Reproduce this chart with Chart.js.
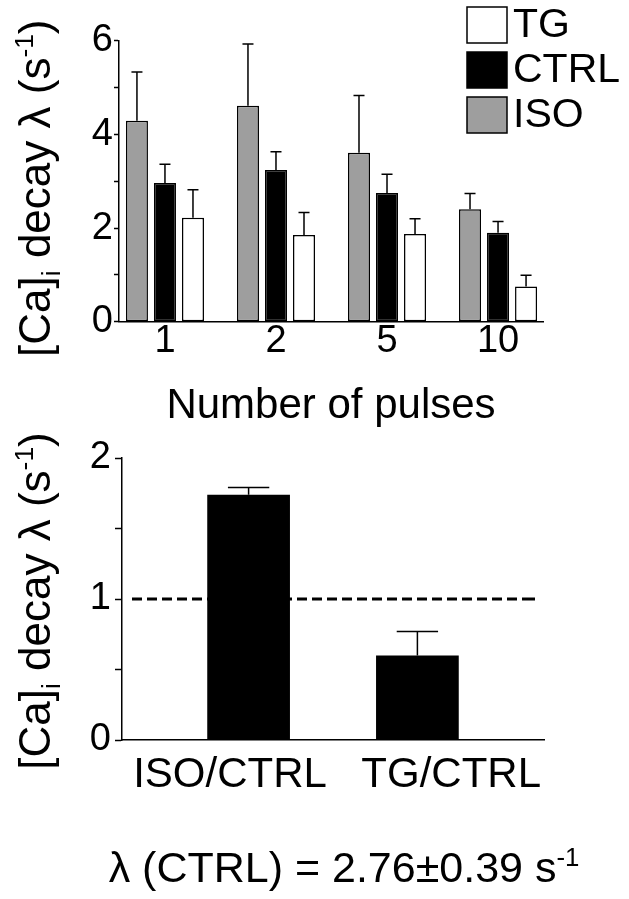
<!DOCTYPE html>
<html>
<head>
<meta charset="utf-8">
<script src="https://cdn.jsdelivr.net/npm/chart.js@4.4.1/dist/chart.umd.min.js"></script>
<style>
  html, body { margin: 0; padding: 0; background: #fff; }
  #wrap { position: relative; width: 629px; height: 899px; }
  #wrap canvas { position: absolute; left: 0; top: 0; }
</style>
</head>
<body>
<div id="wrap">
  <canvas id="topChart" width="629" height="899"></canvas>
  <canvas id="ratioChart" width="629" height="899"></canvas>
</div>
<script>
// data - top panel
const pulses = ['1', '2', '5', '10'];
const isoMean = [4.29, 4.61, 3.61, 2.40];
const isoErr = [1.04, 1.32, 1.22, 0.34];
const ctrlMean = [2.96, 3.24, 2.75, 1.90];
const ctrlErr = [0.40, 0.39, 0.40, 0.24];
const tgMean = [2.22, 1.85, 1.87, 0.75];
const tgErr = [0.60, 0.48, 0.33, 0.24];
const topTicks = [0, 1, 2, 3, 4, 5, 6];

// data - bottom panel
const ratioLabels = ['ISO/CTRL', 'TG/CTRL'];
const ratioMean = [1.74, 0.60];
const ratioErr = [0.05, 0.17];
const ratioRef = 1;
const ctrlLambda = '2.76';
const ctrlLambdaSd = '0.39';

const FONT = "'Liberation Sans', Arial, Helvetica, sans-serif";
Chart.defaults.font.family = FONT;
Chart.defaults.color = '#000';

const toPoints = arr => arr.map((v, i) => ({ x: i, y: v }));

// draw upward error bars
const errorBars = {
  id: 'errorBars',
  afterDatasetsDraw(chart) {
    const ctx = chart.ctx;
    const y = chart.scales.y;
    chart.data.datasets.forEach((ds, di) => {
      if (!ds.errors) return;
      chart.getDatasetMeta(di).data.forEach((bar, i) => {
        const top = y.getPixelForValue(ds.data[i].y + ds.errors[i]);
        const half = bar.width / 4;
        ctx.save();
        ctx.strokeStyle = '#000';
        ctx.lineWidth = 1.5;
        ctx.beginPath();
        ctx.moveTo(bar.x, bar.y);
        ctx.lineTo(bar.x, top);
        ctx.moveTo(bar.x - half, top);
        ctx.lineTo(bar.x + half, top);
        ctx.stroke();
        ctx.restore();
      });
    });
  }
};

// text with sub / superscripts
function richWidth(ctx, parts, size) {
  let w = 0;
  parts.forEach(p => {
    const s = (p.sub || p.sup) ? size * 0.6 : size;
    ctx.font = s + 'px ' + FONT;
    w += ctx.measureText(p.t).width;
  });
  return w;
}
function drawRich(ctx, parts, size, x, y) {
  let cx = x;
  parts.forEach(p => {
    const s = (p.sub || p.sup) ? size * 0.6 : size;
    ctx.font = s + 'px ' + FONT;
    let dy = 0;
    if (p.sub) dy = size * 0.22;
    if (p.sup) dy = -size * 0.38;
    ctx.fillText(p.t, cx, y + dy);
    cx += ctx.measureText(p.t).width;
  });
}

const yTitleParts = [
  { t: '[Ca]' }, { t: 'i', sub: true }, { t: ' decay \u03bb (s' }, { t: '-1', sup: true }, { t: ')' }
];

const yTitle = {
  id: 'yTitle',
  afterDraw(chart, args, opts) {
    const ctx = chart.ctx;
    const area = chart.chartArea;
    const size = opts.size;
    ctx.save();
    ctx.fillStyle = '#000';
    ctx.textBaseline = 'alphabetic';
    const w = richWidth(ctx, yTitleParts, size);
    const cy = (area.top + area.bottom) / 2 + opts.shift;
    ctx.translate(opts.x, cy);
    ctx.rotate(-Math.PI / 2);
    drawRich(ctx, yTitleParts, size, -w / 2, 0);
    ctx.restore();
  }
};

// legend boxes at the top right (TG, CTRL, ISO)
const boxLegend = {
  id: 'boxLegend',
  afterDraw(chart) {
    const ctx = chart.ctx;
    const items = chart.data.datasets.slice().reverse();
    ctx.save();
    items.forEach((ds, i) => {
      const bx = 467, by = 7 + i * 45;
      ctx.fillStyle = ds.backgroundColor;
      ctx.fillRect(bx, by, 40, 36);
      ctx.strokeStyle = '#000';
      ctx.lineWidth = 1.5;
      ctx.strokeRect(bx, by, 40, 36);
      ctx.fillStyle = '#000';
      ctx.font = '41px ' + FONT;
      ctx.textBaseline = 'middle';
      ctx.fillText(ds.label, bx + 46, by + 19);
    });
    ctx.restore();
  }
};

new Chart(document.getElementById('topChart'), {
  type: 'bar',
  data: {
    datasets: [
      { label: 'ISO', data: toPoints(isoMean), errors: isoErr, backgroundColor: '#9e9e9e' },
      { label: 'CTRL', data: toPoints(ctrlMean), errors: ctrlErr, backgroundColor: '#000' },
      { label: 'TG', data: toPoints(tgMean), errors: tgErr, backgroundColor: '#fff' }
    ]
  },
  options: {
    responsive: false,
    animation: false,
    layout: { padding: { top: 40.7, right: 86, bottom: 459, left: 0 } },
    datasets: {
      bar: {
        borderColor: '#000',
        borderWidth: 1.5,
        borderSkipped: false,
        categoryPercentage: 0.757,
        barPercentage: 0.786
      }
    },
    plugins: {
      legend: { display: false },
      tooltip: { enabled: false },
      yTitle: { size: 44, x: 50, shift: 7 }
    },
    scales: {
      x: {
        type: 'linear',
        min: -0.414,
        max: 3.405,
        offset: false,
        afterBuildTicks: s => { s.ticks = pulses.map((p, i) => ({ value: i })); },
        afterFit: s => { s.height = 118.3; },
        grid: { display: false, drawTicks: false, offset: false },
        border: { display: true, color: '#000', width: 1.5 },
        ticks: {
          padding: 1.3,
          font: { size: 38, lineHeight: 1 },
          callback: (v, i) => pulses[i]
        },
        title: {
          display: true,
          text: 'Number of pulses',
          font: { size: 42, lineHeight: 1.2 },
          padding: { top: 0, bottom: 8 }
        }
      },
      y: {
        min: 0,
        max: 6,
        afterBuildTicks: s => { s.ticks = topTicks.map(v => ({ value: v })); },
        afterFit: s => { s.width = 119; },
        grid: { drawOnChartArea: false, drawTicks: true, tickLength: 5, tickWidth: 1.5, tickColor: '#000' },
        border: { color: '#000', width: 1.5 },
        ticks: {
          padding: 1,
          font: { size: 38, lineHeight: 1 },
          callback: v => (v % 2 === 0 ? v : '')
        }
      }
    }
  },
  plugins: [errorBars, yTitle, boxLegend]
});

// dashed reference line at ratio 1
const refLine = {
  id: 'refLine',
  beforeDatasetsDraw(chart) {
    const ctx = chart.ctx;
    const a = chart.chartArea;
    const yy = chart.scales.y.getPixelForValue(ratioRef);
    ctx.save();
    ctx.strokeStyle = '#000';
    ctx.lineWidth = 3;
    ctx.setLineDash([10, 5]);
    ctx.beginPath();
    ctx.moveTo(a.left + 10, yy);
    ctx.lineTo(a.right - 24, yy);
    ctx.stroke();
    ctx.setLineDash([]);
    ctx.beginPath();
    ctx.moveTo(a.right - 22, yy);
    ctx.lineTo(a.right - 9, yy);
    ctx.stroke();
    ctx.restore();
  }
};

// caption under the lower panel
const caption = {
  id: 'caption',
  afterDraw(chart) {
    const ctx = chart.ctx;
    const parts = [
      { t: '\u03bb (CTRL) = ' + ctrlLambda + '\u00b1' + ctrlLambdaSd + ' s' }, { t: '-1', sup: true }
    ];
    ctx.save();
    ctx.fillStyle = '#000';
    ctx.textBaseline = 'alphabetic';
    const w = richWidth(ctx, parts, 43);
    drawRich(ctx, parts, 43, 344 - w / 2, 882);
    ctx.restore();
  }
};

const labelShift = [-0.11, 0.2];

new Chart(document.getElementById('ratioChart'), {
  type: 'bar',
  data: {
    datasets: [
      { label: 'ratio', data: toPoints(ratioMean), errors: ratioErr, backgroundColor: '#000' }
    ]
  },
  options: {
    responsive: false,
    animation: false,
    layout: { padding: { top: 458, right: 85, bottom: 0, left: 0 } },
    datasets: {
      bar: {
        borderWidth: 0,
        categoryPercentage: 1,
        barPercentage: 0.49
      }
    },
    plugins: {
      legend: { display: false },
      tooltip: { enabled: false },
      yTitle: { size: 44, x: 50, shift: 2 }
    },
    scales: {
      x: {
        type: 'linear',
        min: -0.75,
        max: 1.75,
        offset: false,
        afterBuildTicks: s => { s.ticks = ratioLabels.map((l, i) => ({ value: i + labelShift[i] })); },
        afterFit: s => { s.height = 159; },
        grid: { display: false, drawTicks: false, offset: false },
        border: { display: true, color: '#000', width: 1.5 },
        ticks: {
          padding: 14,
          font: { size: 42, lineHeight: 1 },
          callback: (v, i) => ratioLabels[i]
        }
      },
      y: {
        min: 0,
        max: 2,
        afterBuildTicks: s => { s.ticks = [0, 0.5, 1, 1.5, 2].map(v => ({ value: v })); },
        afterFit: s => { s.width = 122; },
        grid: { drawOnChartArea: false, drawTicks: true, tickLength: 7, tickWidth: 1.5, tickColor: '#000' },
        border: { color: '#000', width: 1.5 },
        ticks: {
          padding: 4,
          font: { size: 38, lineHeight: 1 },
          callback: v => (Number.isInteger(v) ? v : '')
        }
      }
    }
  },
  plugins: [errorBars, refLine, yTitle, caption]
});
</script>
</body>
</html>
